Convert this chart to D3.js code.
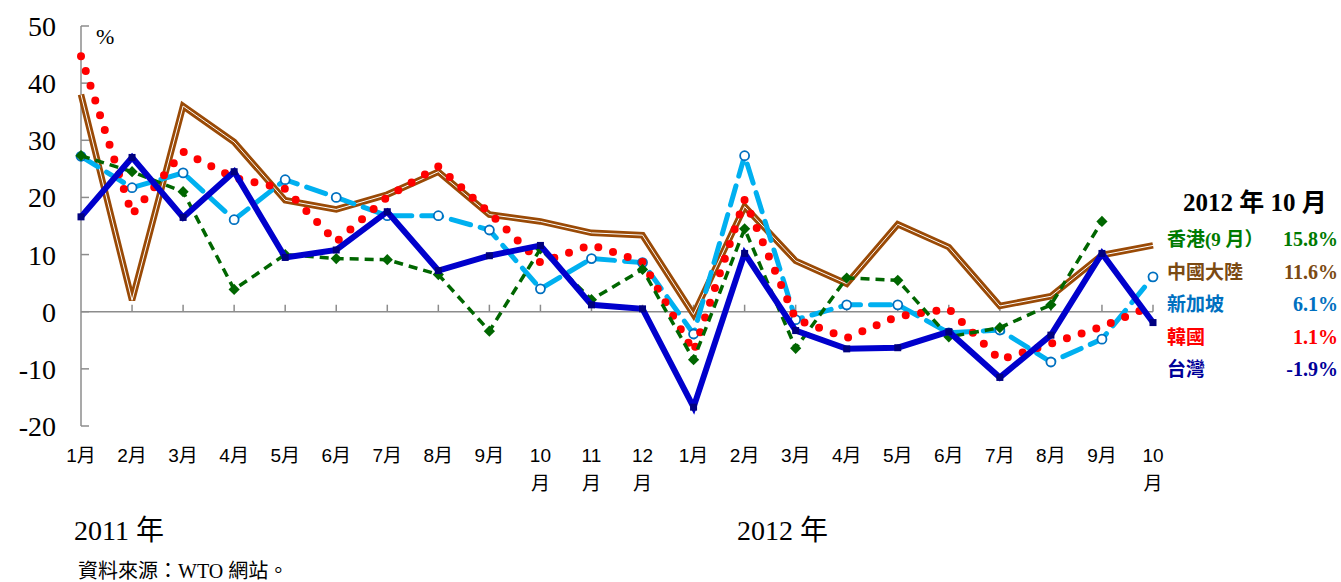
<!DOCTYPE html>
<html>
<head>
<meta charset="utf-8">
<script src="https://cdn.jsdelivr.net/npm/d3@7"></script>
<style>
  body { margin: 0; background: #fff; }
  svg text { font-family: "Liberation Serif", "Noto Sans CJK TC", serif; }
  .xlab { font-family: "Liberation Sans", "Noto Sans CJK TC", sans-serif; }
</style>
</head>
<body>
<svg id="chart" width="1341" height="582"></svg>
<script>
const months = ['1月','2月','3月','4月','5月','6月','7月','8月','9月','10月','11月','12月',
                '1月','2月','3月','4月','5月','6月','7月','8月','9月','10月'];
const yTicks = [50, 40, 30, 20, 10, 0, -10, -20];

const china = [38, 2, 36, 29.7, 19.5, 17.9, 20.5, 24.5, 17, 15.8, 13.8, 13.4,
               -0.5, 18.4, 8.9, 4.9, 15.3, 11.3, 1, 2.7, 9.9, 11.6];
const singapore = [27.2, 21.7, 24.3, 16.1, 23.1, 20, 16.8, 16.8, 14.3, 4, 9.3, 8.6,
                   -3.9, 27.3, -1.4, 1.2, 1.2, -3.7, -3.2, -8.8, -4.8, 6.1];
const korea = [44.7, 17, 28, 23.4, 21.5, 12.2, 20.1, 25.4, 17.3, 8.6, 11.7, 8.7,
               -7, 19.6, -1.3, -4.6, -0.8, 0.5, -8.4, -5.6, -2.6, 1.1];
const hongkong = [27.3, 24.5, 21, 3.9, 10, 9.3, 9.1, 6.5, -3.4, 11, 2.1, 7.4,
                  -8.4, 14.5, -6.4, 5.9, 5.5, -4.4, -2.8, 1.2, 15.8];
const taiwan = [16.6, 27, 16.5, 24.5, 9.5, 10.8, 17.5, 7.2, 9.8, 11.6, 1.2, 0.5,
                -16.7, 10.2, -3.3, -6.5, -6.3, -3.5, -11.5, -4.1, 10.2, -1.9];

const legendNames = ['香港(9 月）', '中國大陸', '新加坡', '韓國', '台灣'];
const legendValues = ['15.8%', '11.6%', '6.1%', '1.1%', '-1.9%'];
const legendColors = ['#007a00', '#7b4a12', '#0070c0', '#ff0000', '#000099'];

const svg = d3.select('#chart');
const x = d3.scaleLinear().domain([0, months.length - 1]).range([81, 1153]);
const y = d3.scaleLinear().domain([-20, 50]).range([426, 26]);
const line = d3.line().x((d, i) => x(i)).y(d => y(d));

// y axis
const axis = svg.append('g').attr('stroke', '#8c8c8c').attr('stroke-width', 1.5);
axis.append('line').attr('x1', x(0)).attr('x2', x(0)).attr('y1', y(50)).attr('y2', y(-20));
yTicks.forEach(t => {
    axis.append('line').attr('x1', x(0)).attr('x2', x(0) + 8).attr('y1', y(t)).attr('y2', y(t));
});
axis.append('line').attr('x1', x(0)).attr('x2', x(months.length - 1)).attr('y1', y(0)).attr('y2', y(0));
months.forEach((m, i) => {
    if (i > 0) axis.append('line').attr('x1', x(i)).attr('x2', x(i)).attr('y1', y(0) - 7).attr('y2', y(0));
});

svg.selectAll('.ytick').data(yTicks).enter().append('text')
    .attr('x', 56).attr('y', d => y(d) + 10)
    .attr('text-anchor', 'end').attr('font-size', 28).text(d => d);

svg.append('text').attr('x', 96).attr('y', 44).attr('font-size', 22).text('%');

// x labels
months.forEach((m, i) => {
    const num = m.replace('月', '');
    if (num.length === 1) {
        svg.append('text').attr('class', 'xlab').attr('x', x(i)).attr('y', 462)
            .attr('text-anchor', 'middle').attr('font-size', 19).text(m);
    } else {
        svg.append('text').attr('class', 'xlab').attr('x', x(i)).attr('y', 462)
            .attr('text-anchor', 'middle').attr('font-size', 19).text(num);
        svg.append('text').attr('class', 'xlab').attr('x', x(i)).attr('y', 490)
            .attr('text-anchor', 'middle').attr('font-size', 19).text('月');
    }
});

svg.append('text').attr('x', 74).attr('y', 540).attr('font-size', 28).text('2011 年');
svg.append('text').attr('x', 737).attr('y', 540).attr('font-size', 28).text('2012 年');
svg.append('text').attr('x', 78).attr('y', 578).attr('font-size', 20).text('資料來源：WTO 網站。');

// series
svg.append('path').datum(china).attr('d', line).attr('fill', 'none')
    .attr('stroke', '#9a4a06').attr('stroke-width', 6.5);
svg.append('path').datum(china).attr('d', line).attr('fill', 'none')
    .attr('stroke', '#fff').attr('stroke-width', 1);

svg.append('path').datum(singapore).attr('d', line).attr('fill', 'none')
    .attr('stroke', '#00b0f0').attr('stroke-width', 5)
    .attr('stroke-dasharray', '20 10').attr('stroke-linecap', 'round');
svg.selectAll('.sg').data(singapore).enter().append('circle')
    .attr('cx', (d, i) => x(i)).attr('cy', d => y(d)).attr('r', 4.5)
    .attr('fill', '#fff').attr('stroke', '#0070c0').attr('stroke-width', 1.8);

svg.append('path').datum(korea).attr('d', line).attr('fill', 'none')
    .attr('stroke', '#ff0000').attr('stroke-width', 8)
    .attr('stroke-dasharray', '0 15.5').attr('stroke-linecap', 'round');

svg.append('path').datum(hongkong).attr('d', line).attr('fill', 'none')
    .attr('stroke', '#006600').attr('stroke-width', 3.5)
    .attr('stroke-dasharray', '9 6');
svg.selectAll('.hk').data(hongkong).enter().append('path')
    .attr('transform', (d, i) => `translate(${x(i)},${y(d)})`)
    .attr('d', d3.symbol(d3.symbolDiamond2, 80)).attr('fill', '#006600');

svg.append('path').datum(taiwan).attr('d', line).attr('fill', 'none')
    .attr('stroke', '#0000cc').attr('stroke-width', 6).attr('stroke-linejoin', 'miter');
svg.selectAll('.tw').data(taiwan).enter().append('rect')
    .attr('x', (d, i) => x(i) - 3.5).attr('y', d => y(d) - 3.5)
    .attr('width', 7).attr('height', 7).attr('fill', '#000080');

// legend
svg.append('text').attr('x', 1255).attr('y', 211).attr('text-anchor', 'middle')
    .attr('font-size', 25).attr('font-weight', 'bold').text('2012 年 10 月');
legendNames.forEach((n, i) => {
    const ly = 246 + i * 32.5;
    svg.append('text').attr('x', 1167).attr('y', ly).attr('font-size', 19)
        .attr('font-weight', 'bold').attr('fill', legendColors[i]).text(n);
    svg.append('text').attr('x', 1338).attr('y', ly).attr('font-size', 20)
        .attr('font-weight', 'bold').attr('text-anchor', 'end').attr('fill', legendColors[i]).text(legendValues[i]);
});
</script>
</body>
</html>
